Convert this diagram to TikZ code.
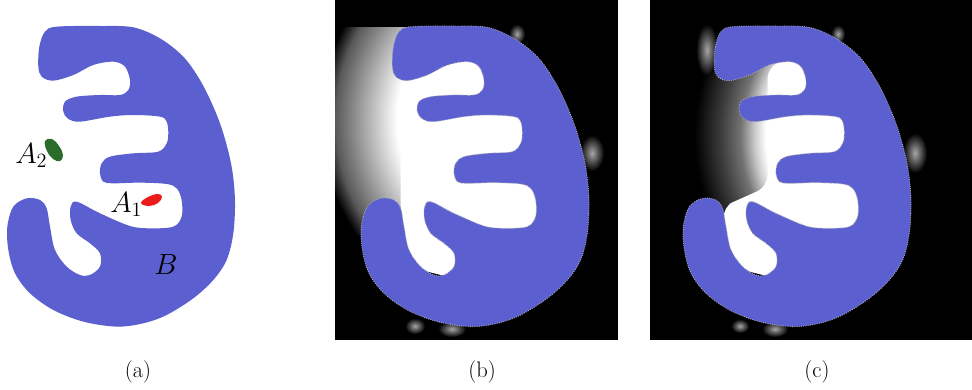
\documentclass[tikz,border=0pt]{standalone}
\definecolor{blobblue}{RGB}{91,95,207}
\definecolor{Agreen}{RGB}{42,108,42}
\definecolor{Ared}{RGB}{236,28,28}
\pgfdeclareradialshading{glowb}{\pgfpoint{0bp}{0bp}}{color(0bp)=(white); color(15.4bp)=(white); color(23.1bp)=(black!65); color(25bp)=(black); color(50bp)=(black)}
\pgfdeclareradialshading{glowc}{\pgfpoint{0bp}{0bp}}{color(0bp)=(white); color(16bp)=(white); color(17.3bp)=(black!20); color(19bp)=(black!55); color(21.2bp)=(black!75); color(24.5bp)=(black); color(50bp)=(black)}
\newcommand{\blobpath}{plot[smooth cycle,tension=0.55] coordinates {
 (135,95) (118,140) (115,200) (125,230) (160,242) (220,225) (280,195) (340,185)
 (375,200) (390,240) (385,270) (360,285) (300,285) (230,290) (195,305) (190,335)
 (205,357) (240,365) (330,350) (400,345) (480,350) (500,365) (505,400) (500,430)
 (475,455) (400,460) (330,470) (305,490) (300,520) (310,545) (340,550) (420,548)
 (500,552) (530,565) (545,600) (545,650) (520,680) (450,685) (390,678) (300,640)
 (230,605) (212,620) (212,660) (230,700) (270,730) (300,760) (300,800) (270,825)
 (240,825) (200,800) (165,750) (150,680) (140,625) (120,600) (80,595) (40,620)
 (22,680) (25,750) (45,820) (90,880) (160,930) (250,965) (350,980) (430,970)
 (500,945) (580,895) (640,840) (680,780) (700,700) (705,600) (695,500) (670,400)
 (640,320) (600,240) (550,170) (480,115) (400,82) (300,78) (170,80)}}
\tikzset{
  blob/.style={fill=blobblue},
  blobedge/.style={draw=white!70!black, densely dotted, line width=0.6pt},
  spot/.style={inner color=white!65!black, outer color=black},
  lbl/.style={font=\fontsize{20}{24}\selectfont},
  subcap/.style={font=\fontsize{16}{19}\selectfont, anchor=base},
}
\begin{document}
\begin{tikzpicture}[x=0.025cm,y=-0.025cm]
\useasboundingbox (0,0) rectangle (972,389);

% (a)
\fill[blob,scale=0.3333] \blobpath;
\fill[Agreen] plot[smooth cycle,tension=0.7] coordinates {(45,141) (52,139) (59,146) (63,155) (60,161) (53,159) (47,151)};
\fill[Ared] plot[smooth cycle,tension=0.7] coordinates {(141,203) (148,197) (158,194) (162,197) (158,203) (149,206)};
\node[lbl,anchor=base west,inner sep=0pt] (labA2) at (15,163) {$A_2$};
\node[lbl,anchor=base west,inner sep=0pt] (labA1) at (110,212) {$A_1$};
\node[lbl,anchor=base west,inner sep=0pt] (labB) at (154,274) {$B$};
\node[subcap] (capa) at (138,377) {(a)};

% (b)
\fill[black] (335,0) rectangle (618,340);
\begin{scope}
  \clip (335,27) rectangle (440,235);
  \shade[shading=glowb] (520,120) circle [radius=200];
\end{scope}
\begin{scope}
  \clip (335,0) rectangle (618,340);
  \shade[spot] (592,153) ellipse [x radius=12, y radius=18];
  \shade[spot] (415,326) ellipse [x radius=10, y radius=8];
  \shade[spot] (452,329) ellipse [x radius=14, y radius=8];
  \shade[spot] (517,34) ellipse [x radius=8, y radius=10];
\end{scope}
\fill[white,rounded corners=8pt,shift={(354,0)},scale=0.3333] (140,232) -- (200,220) -- (330,180) -- (560,180) -- (560,700) -- (320,840) -- (160,800) -- (140,620) -- (140,598) -- cycle;
\fill[blob,blobedge,shift={(354,0)},scale=0.3333] \blobpath;
\node[subcap] (capb) at (482,377) {(b)};

% (c)
\fill[black] (650,0) rectangle (972,340);
\begin{scope}
  \clip (650,27) rectangle (790,235);
  \shade[shading=glowc] (900,135) circle [radius=210];
\end{scope}
\begin{scope}
  \clip (650,0) rectangle (972,340);
  \shade[spot] (707,50) ellipse [x radius=11, y radius=26];
  \shade[spot] (915,153) ellipse [x radius=12, y radius=20];
  \shade[spot] (740,326) ellipse [x radius=9, y radius=7];
  \shade[spot] (775,329) ellipse [x radius=13, y radius=8];
  \shade[spot] (838,34) ellipse [x radius=7, y radius=9];
\end{scope}
\fill[white,rounded corners=8pt,shift={(676,0)},scale=0.3333] (275,200) -- (330,180) -- (560,180) -- (560,700) -- (320,840) -- (160,800) -- (140,620) -- (190,598) -- (275,560) -- cycle;
\fill[blob,blobedge,shift={(676,0)},scale=0.3333] \blobpath;
\node[subcap] (capc) at (817,377) {(c)};
\end{tikzpicture}
\end{document}
